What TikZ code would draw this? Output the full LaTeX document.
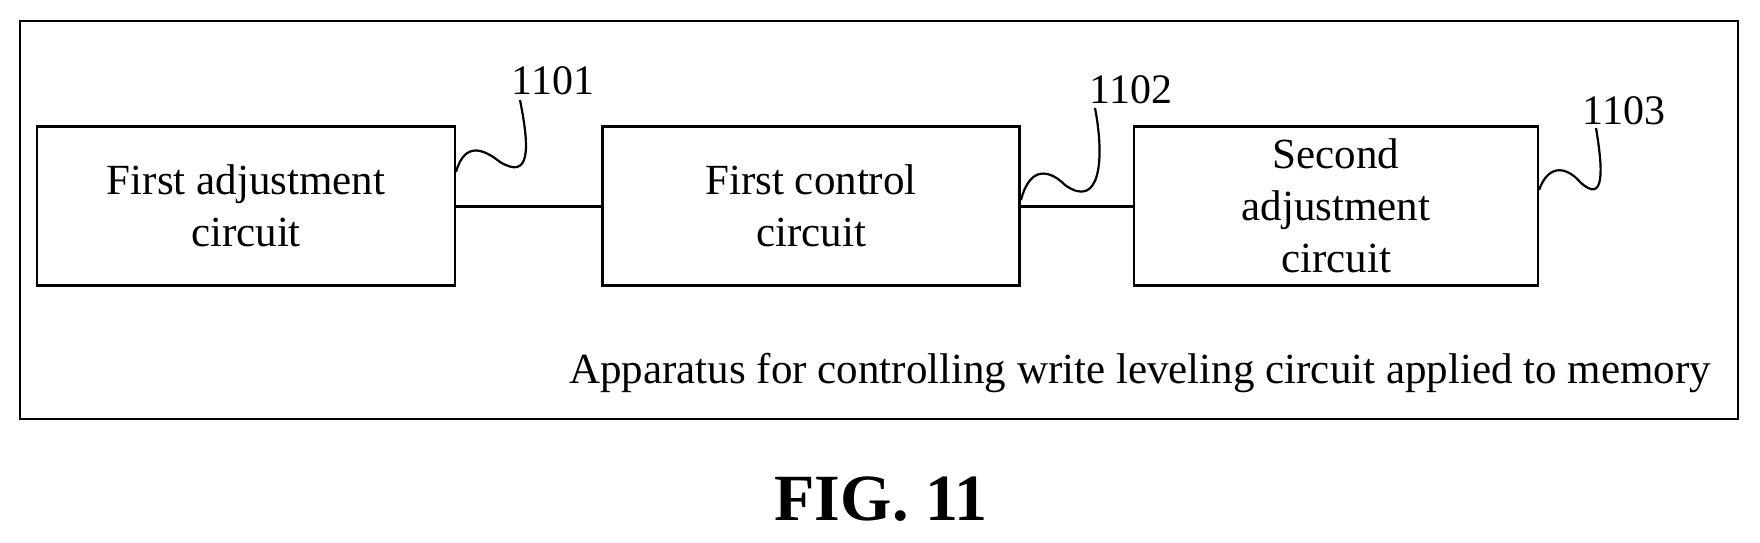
\documentclass[tikz,border=0pt]{standalone}
\usepackage{fontspec}
\setmainfont{Liberation Serif}
\begin{document}
\begin{tikzpicture}[x=1pt,y=-1pt,
  box/.style={draw,line width=2.2pt,align=center,font=\fontsize{43}{52}\selectfont,inner sep=0pt},
  lbl/.style={font=\fontsize{42}{48}\selectfont,inner sep=0pt},
  every path/.style={line width=2.2pt}]
\useasboundingbox (0,0) rectangle (1760,542);
\node[draw,line width=2.5pt,minimum width=1718pt,minimum height=398pt,inner sep=0pt] (frame) at (879,220) {};
\node[box,minimum width=418pt,minimum height=159pt] (b1) at (246,206) {First adjustment\\circuit};
\node[box,minimum width=417pt,minimum height=159pt] (b2) at (811,206) {First control\\circuit};
\node[box,minimum width=404pt,minimum height=159pt] (b3) at (1336,206) {Second\\adjustment\\circuit};
\draw[line width=3pt] (b1.east) -- (b2.west);
\draw[line width=3pt] (b2.east) -- (b3.west);
\node[lbl] (l1) at (553,81) {1101};
\node[lbl] (l2) at (1131,90) {1102};
\node[lbl] (l3) at (1624,111) {1103};
\coordinate (s1) at (456,172);
\coordinate (s2) at (1021,200);
\coordinate (s3) at (1539,190);
\draw (s1) .. controls (465,140) and (485,150) .. (500,162) .. controls (530,180) and (530,150) .. (520,100);
\draw (s2) .. controls (1030,165) and (1050,170) .. (1065,185) .. controls (1100,210) and (1105,160) .. (1095,108);
\draw (s3) .. controls (1550,160) and (1570,170) .. (1580,182) .. controls (1605,205) and (1603,170) .. (1596,128);
\node[font=\fontsize{43}{48}\selectfont,inner sep=0pt,anchor=east] (cap) at (1712,373) {Apparatus for controlling write leveling circuit applied to memory};
\node[font=\fontsize{66}{70}\selectfont\bfseries,inner sep=0pt] (fig) at (881,499) {FIG. 11};
\end{tikzpicture}
\end{document}
